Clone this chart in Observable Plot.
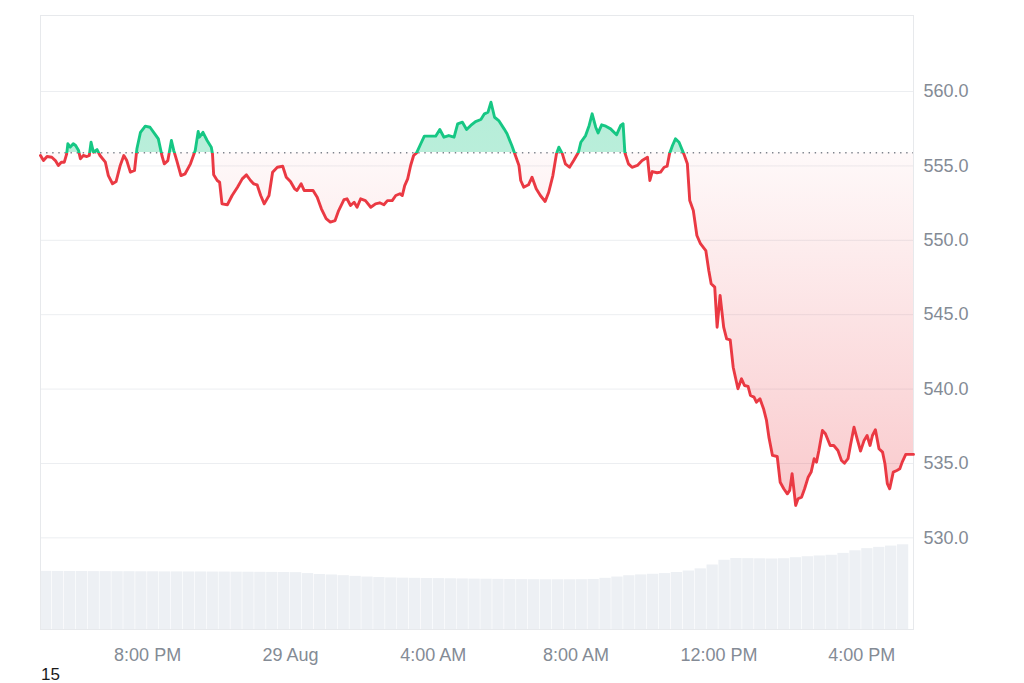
<!DOCTYPE html>
<html>
<head>
<meta charset="utf-8">
<script src="https://cdn.jsdelivr.net/npm/d3@7"></script>
<script src="https://cdn.jsdelivr.net/npm/@observablehq/plot@0.6"></script>
<style>
  html, body { margin: 0; padding: 0; background: #ffffff; }
  #wrap { position: relative; width: 1024px; height: 683px; }
  #vol { position: absolute; left: 0; top: 0; }
  #main { position: absolute; left: 0; top: 0; }
  #caption { position: absolute; left: 41px; top: 667px; font: 17px "Liberation Sans", Arial, sans-serif; line-height: 16px; color: #1a1a1a; }
</style>
</head>
<body>
<div id="wrap">
  <div id="vol"></div>
  <div id="main"></div>
  <div id="caption">15</div>
</div>
<script>
// ---- price series (28 Aug 17:00 -> 29 Aug 17:27) ----
const timesAug28 = ["17:00","17:05","17:11","17:19","17:25","17:30","17:35","17:40","17:44","17:46","17:50","17:55","17:59",
"18:04","18:07","18:12","18:18","18:22","18:25","18:29","18:35","18:40","18:49","18:54",
"19:01","19:07","19:14","19:20","19:25","19:31","19:38","19:42","19:48","19:56",
"20:04","20:12","20:18","20:24","20:28","20:34","20:40","20:44","20:49","20:56",
"21:03","21:12","21:20","21:25","21:27","21:33","21:40","21:47","21:49","21:51","21:57",
"22:01","22:05","22:14","22:22","22:31","22:39","22:46","22:53","22:58",
"23:04","23:10","23:16","23:24","23:30","23:38","23:47","23:53"];
const pricesAug28 = [555.70,555.36,555.63,555.58,555.36,555.03,555.25,555.25,555.81,556.49,556.26,556.49,556.37,
556.03,555.48,555.70,555.63,555.70,556.59,555.92,556.10,555.70,555.25,554.35,
553.80,553.95,555.03,555.70,555.36,554.58,554.69,556.15,557.26,557.67,
557.60,557.16,556.82,555.70,555.14,555.36,556.71,556.03,555.36,554.35,
554.47,555.14,556.03,557.31,556.93,557.26,556.71,556.26,555.81,554.40,554.02,
553.90,552.45,552.39,553.01,553.57,554.13,554.40,554.02,553.80,
553.73,553.01,552.45,553.01,554.58,554.91,554.98,554.24];
const timesAug29 = ["00:00","00:07","00:11","00:18","00:23","00:31","00:38","00:45","00:52",
"01:00","01:07","01:15","01:21","01:30","01:35","01:41","01:47","01:52","01:58",
"02:06","02:15","02:23","02:30","02:37","02:43","02:51","02:57",
"03:04","03:08","03:12","03:17","03:22","03:27","03:32","03:39","03:45","03:55",
"04:04","04:11","04:18","04:26","04:35","04:41","04:49","04:56",
"05:03","05:11","05:20","05:26","05:32","05:37","05:43","05:50","05:59",
"06:04","06:12","06:17","06:24","06:27","06:32","06:40","06:46","06:53",
"07:00","07:08","07:14","07:21","07:27","07:31","07:37","07:42","07:49","07:56",
"08:04","08:08","08:16","08:22","08:27","08:33","08:37","08:43","08:50","08:58",
"09:08","09:15","09:19","09:22","09:28","09:34","09:43","09:51",
"10:00","10:04","10:08","10:16","10:22","10:28","10:33","10:37","10:42","10:47","10:53",
"11:01","11:07","11:11","11:17","11:23","11:29","11:38","11:43","11:47","11:53","11:57",
"12:02","12:08","12:13","12:19","12:24","12:32","12:38","12:43","12:49","12:53","12:59",
"13:03","13:09","13:15","13:20","13:24","13:30","13:38","13:43","13:49","13:55","13:59",
"14:03","14:09","14:13","14:19","14:24","14:30","14:35","14:40","14:44","14:48","14:54","14:59",
"15:07","15:13","15:20","15:26","15:31","15:37","15:41","15:47","15:53","15:58",
"16:04","16:09","16:14","16:18","16:23","16:29","16:35","16:39","16:43","16:47","16:53","16:59",
"17:04","17:08","17:14","17:27"];
const pricesAug29 = [553.95,553.46,553.35,553.80,553.35,553.35,553.35,552.90,552.12,
551.45,551.22,551.33,552.00,552.74,552.79,552.34,552.56,552.22,552.79,
552.67,552.22,552.45,552.52,552.39,552.67,552.67,553.01,
553.13,553.01,553.68,554.13,555.03,555.70,555.88,556.49,557.00,557.00,
557.00,557.45,556.93,557.04,556.93,557.83,557.94,557.45,
557.72,557.98,558.12,558.50,558.61,559.28,558.27,558.05,557.49,
557.16,556.37,555.81,555.03,554.02,553.57,553.73,554.24,553.46,
553.01,552.61,553.23,554.35,555.81,556.26,555.81,555.14,554.91,555.36,
555.92,556.59,557.04,557.72,558.50,557.60,557.22,557.76,557.67,557.49,
557.09,557.72,557.83,555.88,555.14,554.91,555.03,555.36,
555.58,554.02,554.62,554.54,554.58,554.91,554.98,555.81,556.37,556.82,556.59,
555.81,555.14,552.67,552.00,550.32,549.77,549.31,547.97,547.08,546.85,544.16,
546.29,544.16,543.38,543.31,541.47,540.02,540.69,540.24,540.18,539.57,539.46,
539.12,539.35,538.68,537.89,536.77,535.54,535.47,533.74,533.30,532.96,533.19,
534.31,532.18,532.63,532.74,533.30,534.08,534.42,535.32,535.09,535.87,537.22,537.00,
536.21,536.21,535.87,535.20,535.02,535.32,536.21,537.44,536.55,535.83,
536.55,536.88,536.21,536.88,537.27,535.99,535.76,534.98,533.64,533.30,534.42,534.53,
534.64,535.09,535.61,535.61];
const baselinePrice = 555.88;

// ---- volume bars (20-minute bins) ----
const volTimesAug28 = ["17:00","17:20","17:40","18:00","18:20","18:40","19:00","19:20","19:40","20:00","20:20","20:40",
"21:00","21:20","21:40","22:00","22:20","22:40","23:00","23:20","23:40"];
const volAug28 = [67.6,67.5,67.4,67.4,67.3,67.3,67.2,67.2,67.1,67.1,67.0,67.0,66.9,66.9,66.8,66.8,66.7,66.6,66.5,66.4,66.3];
const volTimesAug29 = ["00:00","00:20","00:40","01:00","01:20","01:40","02:00","02:20","02:40","03:00","03:20","03:40",
"04:00","04:20","04:40","05:00","05:20","05:40","06:00","06:20","06:40","07:00","07:20","07:40",
"08:00","08:20","08:40","09:00","09:20","09:40","10:00","10:20","10:40","11:00","11:20","11:40",
"12:00","12:20","12:40","13:00","13:20","13:40","14:00","14:20","14:40","15:00","15:20","15:40",
"16:00","16:20","16:40","17:00"];
const volAug29 = [66.1,65.0,64.0,63.4,62.6,61.8,61.0,60.4,60.0,59.7,59.5,59.3,59.2,59.0,58.8,58.6,58.5,58.3,58.1,58.0,
57.9,57.8,57.8,57.8,57.9,58.2,59.5,61.0,62.5,63.5,64.2,65.0,66.3,68.0,70.5,75.0,80.5,82.6,82.4,82.2,
82.0,82.3,83.5,84.6,85.5,86.3,88.5,91.5,94.0,95.5,97.0,98.5];

// ---- axis ticks ----
const xTickTimes = ["2024-08-28T20:00","2024-08-29T00:00","2024-08-29T04:00","2024-08-29T08:00","2024-08-29T12:00","2024-08-29T16:00"];
const xTickLabels = ["8:00 PM","29 Aug","4:00 AM","8:00 AM","12:00 PM","4:00 PM"];
const yTicks = [530, 535, 540, 545, 550, 555, 560];

// ---- build tables ----
const parse = d3.utcParse("%Y-%m-%dT%H:%M");
const prices = [
  ...timesAug28.map((t, i) => ({t: parse("2024-08-28T" + t), p: pricesAug28[i]})),
  ...timesAug29.map((t, i) => ({t: parse("2024-08-29T" + t), p: pricesAug29[i]}))
].filter(d => d.p != null);
const volume = [
  ...volTimesAug28.map((t, i) => ({t: parse("2024-08-28T" + t), v: volAug28[i]})),
  ...volTimesAug29.map((t, i) => ({t: parse("2024-08-29T" + t), v: volAug29[i]}))
].filter(d => d.v != null);
const xTickDates = xTickTimes.map(parse);

const H = 672;
const W = 1024;
const margins = {marginLeft: 40, marginRight: 111, marginBottom: 43};
const xDomain = [prices[0].t, prices[prices.length - 1].t];
const font = "'Liberation Sans', Arial, Helvetica, sans-serif";

const volPlot = Plot.plot({
  width: W, height: H, ...margins, marginTop: 543,
  style: {background: "#ffffff", fontFamily: font},
  x: {type: "utc", domain: xDomain, axis: null},
  y: {domain: [0, 100], axis: null},
  marks: [
    Plot.rectY(volume, {x1: "t", x2: d => new Date(+d.t + 20 * 60000), y1: 0, y2: "v", fill: "#edf0f4", insetRight: 0.6})
  ]
});
document.getElementById("vol").appendChild(volPlot);

const mainPlot = Plot.plot({
  width: W, height: H, ...margins, marginTop: 15,
  style: {background: "transparent", fontFamily: font, fontSize: "18px", color: "#848b95"},
  x: {type: "utc", domain: xDomain, ticks: xTickDates, label: null, tickSize: 0, tickPadding: 19,
      tickFormat: d => { const i = xTickDates.findIndex(t => +t === +d); return i >= 0 ? xTickLabels[i] : ""; }},
  y: {domain: [523.84, 565.11], ticks: yTicks, tickFormat: d => d.toFixed(1), label: null,
      tickSize: 0, tickPadding: 10, axis: "right"},
  marks: [
    Plot.ruleY(yTicks, {stroke: "#eceef1", strokeWidth: 1}),
    Plot.frame({stroke: "#e7e9ec"}),
    Plot.areaY(prices, {x: "t", y1: baselinePrice, y2: "p", fill: "url(#areaGrad)"}),
    Plot.ruleY([baselinePrice], {stroke: "#7d838c", strokeWidth: 1.4, strokeDasharray: "1.4,4.7"}),
    Plot.lineY(prices, {x: "t", y: "p", stroke: "url(#lineGrad)", strokeWidth: 2.9, strokeLinejoin: "round", strokeLinecap: "round"})
  ]
});
document.getElementById("main").appendChild(mainPlot);

// gradients split at the baseline price
const ys = mainPlot.scale("y");
const yb = ys.apply(baselinePrice);
const yLow = ys.apply(d3.min(prices, d => d.p));
const svg = d3.select(mainPlot);
const defs = svg.insert("defs", ":first-child");
const green = "#16c784", red = "#ea3943";
const lg = defs.append("linearGradient").attr("id", "lineGrad").attr("gradientUnits", "userSpaceOnUse")
  .attr("x1", 0).attr("y1", 0).attr("x2", 0).attr("y2", H);
[[0, green], [yb / H, green], [yb / H, red], [1, red]].forEach(([o, c]) =>
  lg.append("stop").attr("offset", o).attr("stop-color", c));
const ag = defs.append("linearGradient").attr("id", "areaGrad").attr("gradientUnits", "userSpaceOnUse")
  .attr("x1", 0).attr("y1", 0).attr("x2", 0).attr("y2", H);
[[0, green, 0.34], [yb / H, green, 0.30], [yb / H, red, 0.03], [yLow / H, red, 0.27], [1, red, 0.27]].forEach(([o, c, a]) =>
  ag.append("stop").attr("offset", o).attr("stop-color", c).attr("stop-opacity", a));
</script>
</body>
</html>
